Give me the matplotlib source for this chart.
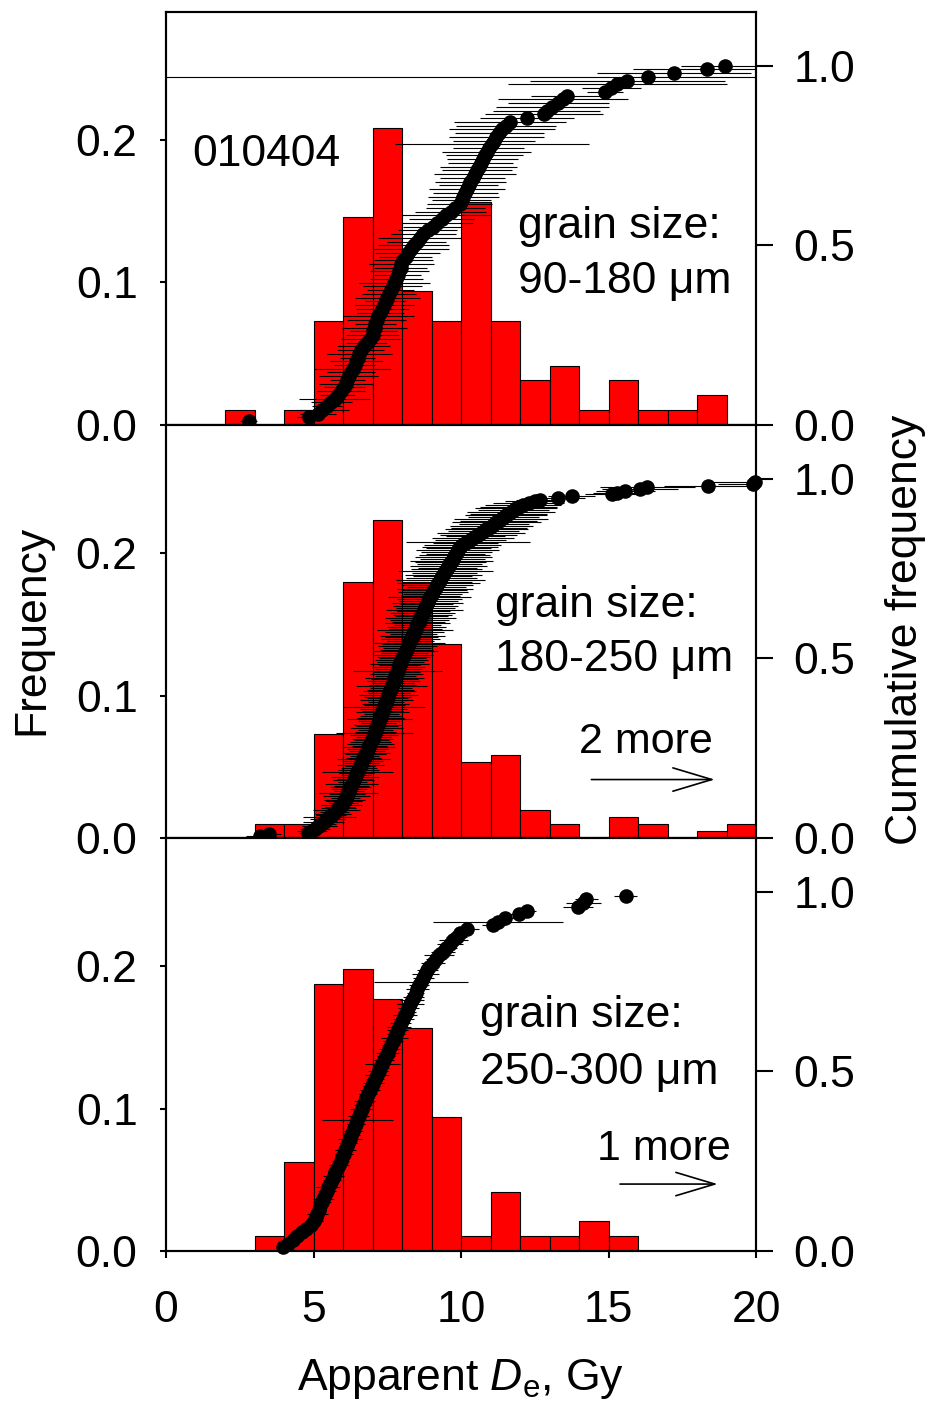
import numpy as np
import matplotlib
matplotlib.use('Agg')
import matplotlib.pyplot as plt

plt.rcParams['font.family'] = ['Liberation Sans', 'DejaVu Sans']
plt.rcParams['mathtext.fontset'] = 'custom'
plt.rcParams['mathtext.rm'] = 'Liberation Sans'
plt.rcParams['mathtext.it'] = 'Liberation Sans:italic'

# ---------------- data ----------------
bin_left = list(range(0, 20))   # 1-Gy bins, 0..20 Gy

# histogram counts per 1-Gy bin (0-1, 1-2, ..., 19-20)
counts1 = [0, 0, 1, 0, 1, 7, 14, 20, 9, 7, 15, 7, 3, 4, 1, 3, 1, 1, 2, 0]
counts2 = [0, 0, 0, 2, 2, 15, 37, 46, 37, 28, 11, 12, 4, 2, 0, 3, 2, 0, 1, 2]
counts3 = [0, 0, 0, 1, 6, 18, 19, 17, 15, 9, 1, 4, 1, 1, 2, 1, 0, 0, 0, 0]

# sorted apparent De values (Gy) of each grain
de1 = [2.8, 4.85,
       5.15, 5.3, 5.45, 5.6, 5.72, 5.82, 5.93,
       6.05, 6.1, 6.15, 6.2, 6.27, 6.33, 6.4, 6.45, 6.5, 6.55, 6.6, 6.7, 6.8, 6.92,
       7.0, 7.03, 7.07, 7.1, 7.14, 7.2, 7.27, 7.33, 7.4, 7.45, 7.5, 7.56, 7.62, 7.68, 7.74, 7.8, 7.85, 7.9, 7.95, 7.98,
       8.05, 8.12, 8.2, 8.3, 8.4, 8.5, 8.6, 8.72, 8.88,
       9.05, 9.2, 9.35, 9.5, 9.65, 9.8, 9.95,
       10.02, 10.08, 10.14, 10.2, 10.26, 10.32, 10.4, 10.47, 10.54, 10.6, 10.67, 10.74, 10.8, 10.87, 10.94,
       11.05, 11.12, 11.2, 11.3, 11.4, 11.52, 11.66,
       12.23, 12.81, 12.9,
       13.1, 13.3, 13.45, 13.58,
       14.88,
       15.1, 15.3, 15.64,
       16.35,
       17.22,
       18.33, 18.95]
err1 = [0.3, 0.4,
        0.6, 0.9, 0.5, 0.7, 1.2, 0.6, 0.8,
        0.7, 0.9, 0.6, 1.0, 0.8, 1.3, 0.7, 0.9, 0.6, 1.1, 0.8, 0.9, 0.7, 1.0,
        0.9, 0.8, 1.1, 0.7, 1.0, 1.2, 0.8, 0.9, 1.0, 0.7, 1.1, 0.9, 0.8, 1.0, 1.2, 0.9, 0.8, 1.0, 0.9, 1.1,
        1.0, 0.9, 1.1, 1.3, 1.2, 1.0, 1.4, 1.1, 1.0,
        1.0, 1.2, 1.1, 1.5, 1.2, 1.0, 1.1,
        1.0, 1.2, 1.1, 1.3, 1.0, 1.2, 1.1, 1.4, 1.2, 1.3, 1.1, 1.2, 1.3, 1.5, 1.2,
        3.3, 1.4, 1.6, 1.5, 1.8, 1.7, 1.9,
        1.6, 2.0, 1.8,
        1.9, 1.7, 2.2, 1.2,
        0.6,
        1.0, 3.7, 3.3,
        17.0,
        2.6,
        2.5, 1.5]

de2 = [3.2, 3.5,
       4.82, 4.95,
       5.05, 5.12, 5.2, 5.27, 5.34, 5.4, 5.47, 5.53, 5.6, 5.66, 5.72, 5.78, 5.84, 5.9, 5.96,
       6.01, 6.04, 6.06, 6.09, 6.12, 6.14, 6.17, 6.2, 6.22, 6.25,
       6.28, 6.3, 6.33, 6.36, 6.38, 6.41, 6.44, 6.46, 6.49, 6.52,
       6.54, 6.57, 6.6, 6.62, 6.65, 6.68, 6.7, 6.73, 6.76, 6.78,
       6.81, 6.84, 6.86, 6.89, 6.92, 6.94, 6.97,
       7.01, 7.03, 7.05, 7.07, 7.09, 7.11, 7.13, 7.15, 7.17, 7.2,
       7.22, 7.24, 7.26, 7.28, 7.3, 7.33, 7.35, 7.37, 7.39, 7.41,
       7.43, 7.46, 7.48, 7.5, 7.52, 7.54, 7.56, 7.59, 7.61, 7.63,
       7.65, 7.67, 7.69, 7.72, 7.74, 7.76, 7.78, 7.8, 7.82, 7.85,
       7.87, 7.89, 7.91, 7.93, 7.95, 7.98,
       8.01, 8.04, 8.06, 8.09, 8.12, 8.14, 8.17, 8.2, 8.22, 8.25,
       8.28, 8.3, 8.33, 8.36, 8.38, 8.41, 8.44, 8.46, 8.49, 8.52,
       8.54, 8.57, 8.6, 8.62, 8.65, 8.68, 8.7, 8.73, 8.76, 8.78,
       8.81, 8.84, 8.86, 8.89, 8.92, 8.94, 8.97,
       9.02, 9.05, 9.09, 9.12, 9.16, 9.19, 9.23, 9.26, 9.3, 9.33,
       9.37, 9.4, 9.44, 9.47, 9.51, 9.54, 9.58, 9.61, 9.65, 9.68,
       9.72, 9.75, 9.79, 9.82, 9.86, 9.89, 9.93, 9.97,
       10.05, 10.14, 10.23, 10.32, 10.41, 10.5, 10.59, 10.68, 10.77, 10.86, 10.95,
       11.04, 11.12, 11.2, 11.28, 11.36, 11.45, 11.53, 11.61, 11.7, 11.78, 11.87, 11.95,
       12.1, 12.3, 12.5, 12.68,
       13.3, 13.75,
       15.11, 15.28, 15.56,
       16.07, 16.32,
       18.38,
       19.9, 19.97,
       23.0, 27.0]
err2 = [0.5, 0.4,
        0.3, 0.5,
        0.5, 0.4, 0.6, 0.5, 0.7, 0.4, 0.6, 0.9, 0.5, 0.6, 0.5, 0.8, 0.6, 0.5, 0.7,
        0.5, 0.6, 0.7, 0.5, 0.8, 0.6, 1.0, 0.5, 0.6, 0.7,
        0.6, 0.9, 0.5, 0.7, 0.6, 0.8, 0.5, 0.6, 1.2, 0.7,
        0.6, 0.5, 0.8, 0.6, 0.7, 0.9, 0.6, 0.5, 0.7, 0.8,
        0.6, 0.7, 0.9, 0.6, 0.8, 0.7, 0.6,
        0.7, 0.6, 0.8, 1.3, 0.7, 0.6, 0.9, 0.7, 0.8, 0.6,
        0.7, 1.1, 0.8, 0.7, 0.6, 0.9, 0.7, 0.8, 1.4, 0.7,
        0.8, 0.6, 0.9, 0.7, 0.8, 1.0, 0.7, 0.9, 0.8, 0.7,
        1.2, 0.8, 0.7, 0.9, 0.8, 1.0, 0.7, 0.9, 0.8, 1.5,
        0.8, 0.9, 0.7, 1.0, 0.8, 0.9,
        0.8, 0.9, 1.0, 0.8, 1.1, 0.9, 0.8, 1.0, 0.9, 1.2,
        0.8, 1.0, 0.9, 1.1, 0.8, 1.0, 1.3, 0.9, 1.0, 0.8,
        1.1, 0.9, 1.0, 1.2, 0.9, 1.0, 1.1, 0.9, 1.3, 1.0,
        1.1, 0.9, 1.2, 1.0, 1.1, 1.4, 1.0,
        1.0, 1.2, 1.1, 1.3, 1.0, 1.2, 1.4, 1.1, 1.5, 1.2,
        1.0, 1.3, 1.1, 1.6, 1.2, 1.0, 1.3, 1.1, 1.2, 1.4,
        1.1, 1.3, 1.2, 1.0, 1.2, 1.4, 1.1, 1.3,
        1.3, 1.1, 2.1, 1.2, 1.4, 1.0, 1.3, 1.5, 1.2, 1.4, 1.3,
        1.4, 1.2, 1.5, 1.3, 1.6, 1.2, 1.4, 1.3, 1.5, 1.2, 1.4, 1.3,
        1.3, 1.2, 1.0, 0.8,
        0.9, 0.8,
        0.9, 0.8, 1.0,
        1.3, 1.6,
        1.5,
        1.2, 1.5,
        2.0, 2.5]

de3 = [3.95,
       4.15, 4.3, 4.45, 4.6, 4.75, 4.9,
       5.03, 5.08, 5.13, 5.18, 5.23, 5.28, 5.33, 5.39, 5.45, 5.5, 5.56, 5.62, 5.68, 5.74, 5.8, 5.86, 5.92, 5.97,
       6.03, 6.08, 6.13, 6.18, 6.23, 6.28, 6.33, 6.38, 6.43, 6.48, 6.53, 6.58, 6.63, 6.68, 6.73, 6.79, 6.85, 6.91, 6.97,
       7.03, 7.09, 7.15, 7.21, 7.27, 7.33, 7.39, 7.45, 7.51, 7.57, 7.63, 7.69, 7.75, 7.8, 7.85, 7.9, 7.96,
       8.04, 8.1, 8.16, 8.22, 8.28, 8.34, 8.4, 8.46, 8.52, 8.58, 8.65, 8.72, 8.79, 8.86, 8.93,
       9.05, 9.15, 9.25, 9.38, 9.5, 9.62, 9.74, 9.85, 9.95,
       10.2,
       11.1, 11.25, 11.5, 11.95,
       12.25,
       13.96,
       14.15, 14.25,
       15.58,
       24.0]
err3 = [0.2,
        0.2, 0.3, 0.2, 0.35, 0.25, 0.2,
        0.3, 0.2, 0.35, 0.25, 0.2, 0.3, 0.35, 0.2, 0.3, 0.4, 0.2, 0.3, 0.35, 0.25, 0.2, 0.35, 0.3, 0.2,
        0.3, 0.35, 0.2, 0.3, 0.4, 0.3, 0.35, 0.25, 0.3, 1.2, 0.35, 0.25, 0.4, 0.3, 0.35, 0.2, 0.3, 0.35, 0.3,
        0.35, 0.3, 0.4, 0.35, 0.3, 0.6, 0.35, 0.3, 0.4, 0.35, 0.3, 0.35, 0.45, 0.3, 0.35, 0.4, 0.35,
        0.35, 0.4, 0.3, 0.35, 0.45, 0.4, 0.35, 0.3, 0.4, 0.35, 1.6, 0.35, 0.45, 0.35, 0.3,
        0.4, 0.35, 0.5, 0.4, 0.35, 0.45, 0.5, 0.35, 0.3,
        0.4,
        0.4, 2.2, 0.3, 0.3,
        0.3,
        0.5,
        0.6, 0.4,
        0.4,
        1.0]

panels = [
    dict(counts=counts1, de=de1, err=err1, size="90-180 \u03bcm", sample="010404", more=None),
    dict(counts=counts2, de=de2, err=err2, size="180-250 \u03bcm", sample=None, more="2 more"),
    dict(counts=counts3, de=de3, err=err3, size="250-300 \u03bcm", sample=None, more="1 more"),
]

# ---------------- layout / style ----------------
FS = 32
W, H = 931, 1405
fig = plt.figure(figsize=(W / 100, H / 100), dpi=100)

ax_left = 166 / W
ax_w = 590 / W
ax_h = 0.2940
bottoms = [0.1096 + 2 * ax_h, 0.1096 + ax_h, 0.1096]

# text positions (x in Gy, y in frequency units), per panel
size_pos = [(11.93, 0.131, 0.0927), (11.15, 0.155, 0.117), (10.65, 0.157, 0.117)]
more_pos = [None, (14.0, 0.0596, 14.42, 18.6, 0.041), (14.6, 0.0636, 15.39, 18.7, 0.047)]

for i, p in enumerate(panels):
    ax = fig.add_axes([ax_left, bottoms[i], ax_w, ax_h])
    ax2 = ax.twinx()

    n_total = len(p['de'])
    freq = np.array(p['counts'], dtype=float) / n_total
    mask = freq > 0
    ax.bar(np.array(bin_left)[mask], freq[mask], width=1.0, align='edge',
           color='#ff0000', edgecolor='black', linewidth=0.8, zorder=2)
    ax.set_xlim(0, 20)
    ax.set_ylim(0, 0.29)
    ax.set_yticks([0, 0.1, 0.2])
    ax.set_yticklabels(['0.0', '0.1', '0.2'])

    de = np.array(p['de'])
    err = np.array(p['err'])
    cum = np.arange(1, n_total + 1) / n_total
    ax2.errorbar(de, cum, xerr=err, fmt='none', ecolor='black', elinewidth=0.8,
                 capsize=0, zorder=3)
    vis = de <= 20
    ax2.plot(de[vis], cum[vis], 'o', color='black', markersize=10.5,
             markeredgewidth=0, zorder=4, clip_on=False)
    ax2.set_ylim(0, 1.15)
    ax2.set_xlim(0, 20)
    ax2.set_yticks([0, 0.5, 1.0])
    ax2.set_yticklabels(['0.0', '0.5', '1.0'])

    for a in (ax, ax2):
        for s in a.spines.values():
            s.set_linewidth(1.5)
    ax.tick_params(axis='y', direction='out', length=4.5, width=1.5, labelsize=FS, pad=16)
    ax2.tick_params(axis='y', direction='out', length=12, width=1.5, labelsize=FS, pad=15)
    ax2.tick_params(axis='x', bottom=False, top=False, labelbottom=False)
    if i < 2:
        ax.tick_params(axis='x', bottom=False, labelbottom=False)
    else:
        ax.set_xticks([0, 5, 10, 15, 20])
        ax.tick_params(axis='x', direction='out', length=5, width=1.5, labelsize=FS, pad=23)

    # annotations
    tx, ty1, ty2 = size_pos[i]
    ax2.text(tx, ty1, "grain size:", transform=ax.transData, fontsize=FS,
             ha='left', va='baseline', zorder=6)
    ax2.text(tx, ty2, p['size'], transform=ax.transData, fontsize=FS,
             ha='left', va='baseline', zorder=6)
    if p['sample']:
        ax2.text(0.88, 0.182, p['sample'], transform=ax.transData, fontsize=FS,
                 ha='left', va='baseline', zorder=6)
    if p['more']:
        mx, my, a0, a1, ay = more_pos[i]
        ax2.text(mx, my, p['more'], transform=ax.transData, fontsize=FS - 1,
                 ha='left', va='baseline', zorder=6)
        ax2.annotate('', xy=(a1, ay), xytext=(a0, ay), xycoords=ax.transData,
                     textcoords=ax.transData,
                     arrowprops=dict(arrowstyle='->,head_length=0.4,head_width=0.12',
                                     lw=1.2, color='black', mutation_scale=70,
                                     shrinkA=0, shrinkB=0))

fig.text(32 / W, 1 - 630 / H, 'Frequency', rotation=90, ha='center', va='center', fontsize=FS)
fig.text(905 / W, 1 - 630 / H, 'Cumulative frequency', rotation=90, ha='center',
         va='center', fontsize=FS)
fig.text(461 / W, 1 - 1390 / H, r'Apparent $D_{\mathrm{e}}$, Gy', ha='center',
         va='baseline', fontsize=FS)

fig.savefig('out.png', dpi=100)
